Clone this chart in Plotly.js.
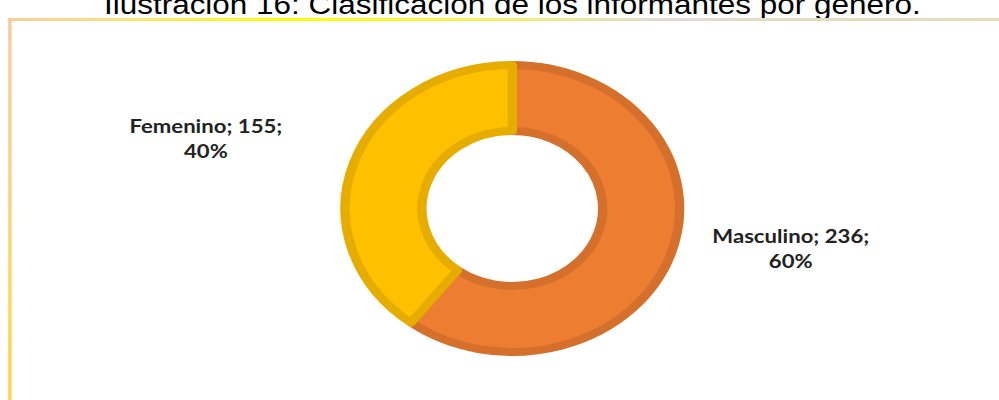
<!DOCTYPE html>
<html>
<head>
<meta charset="utf-8">
<script src="https://cdn.plot.ly/plotly-3.0.1.min.js"></script>
<style>
  html, body { margin: 0; padding: 0; background: #fff; overflow: hidden; }
  #wrap { position: absolute; left: 0; top: 0; width: 857px; height: 400px;
          transform: scale(1.1657, 1); transform-origin: 0 0; }
  #chart { position: absolute; left: 0; top: 0; width: 857px; height: 400px; }
  #topline { position: absolute; left: 7px; top: 18px; width: 850px; height: 2.5px; pointer-events: none;
    background: linear-gradient(to right, #F8CBA0 0%, #FCE27A 12%, #FFFF00 28%, #FAF530 40%, #F2EC7A 52%,
      #E6E3B0 60%, #DEDCD6 66%, #E3DCC6 75%, #E6DAB8 100%); }
  #leftline { position: absolute; left: 7px; top: 18px; width: 2.6px; height: 382px; pointer-events: none;
    background: linear-gradient(to bottom, #F8CBA0 0%, #FBD38A 40%, #FFD75A 75%, #FFD34F 100%); }
</style>
</head>
<body>
<div id="wrap">
  <div id="chart"></div>
  <div id="topline"></div>
  <div id="leftline"></div>
</div>
<script>
// ---- data ----
const categories = ["Masculino", "Femenino"];
const counts = [236, 155];

// ---- styles ----
const fillColors = ["#ED7D31", "#FFC000"];
const edgeColors = ["#D5702C", "#E6AC00"];

const total = counts.reduce((a, b) => a + b, 0);
const pct = counts.map(v => Math.round(v / total * 100));
const labelText = categories.map((c, i) => c + "; " + counts[i] + ";<br>" + pct[i] + "%");

const W = 857, H = 400;
const labelPos = [ {x: 678, y: 248}, {x: 176, y: 138} ];

const trace = {
  type: "pie",
  labels: categories,
  values: counts,
  hole: 0.54,
  sort: false,
  direction: "clockwise",
  rotation: 0,
  textinfo: "none",
  hoverinfo: "label+value+percent",
  marker: { colors: fillColors, line: { color: edgeColors, width: 8 } },
  domain: { x: [0.3454, 0.6803], y: [0.12, 0.8375] },
  showlegend: false
};

const annotations = labelText.map((t, i) => ({
  text: t,
  xref: "paper", yref: "paper",
  x: labelPos[i].x / W, y: 1 - labelPos[i].y / H,
  xanchor: "center", yanchor: "middle",
  align: "center",
  showarrow: false,
  font: { family: "Lato, 'Open Sans', sans-serif", size: 19, color: "#222222", weight: "bold" }
}));

const layout = {
  width: W, height: H,
  margin: { l: 0, r: 0, t: 0, b: 0 },
  paper_bgcolor: "#ffffff",
  title: {
    text: "Ilustración 16: Clasificación de los informantes por género.",
    font: { family: "'Liberation Sans', Arial, sans-serif", size: 27, color: "#000000" },
    x: 439.5 / W, xanchor: "center",
    yref: "container", y: 1 - 14 / H, yanchor: "bottom"
  },
  annotations: annotations
};

Plotly.newPlot("chart", [trace], layout, { displayModeBar: false, staticPlot: true });
</script>
</body>
</html>
